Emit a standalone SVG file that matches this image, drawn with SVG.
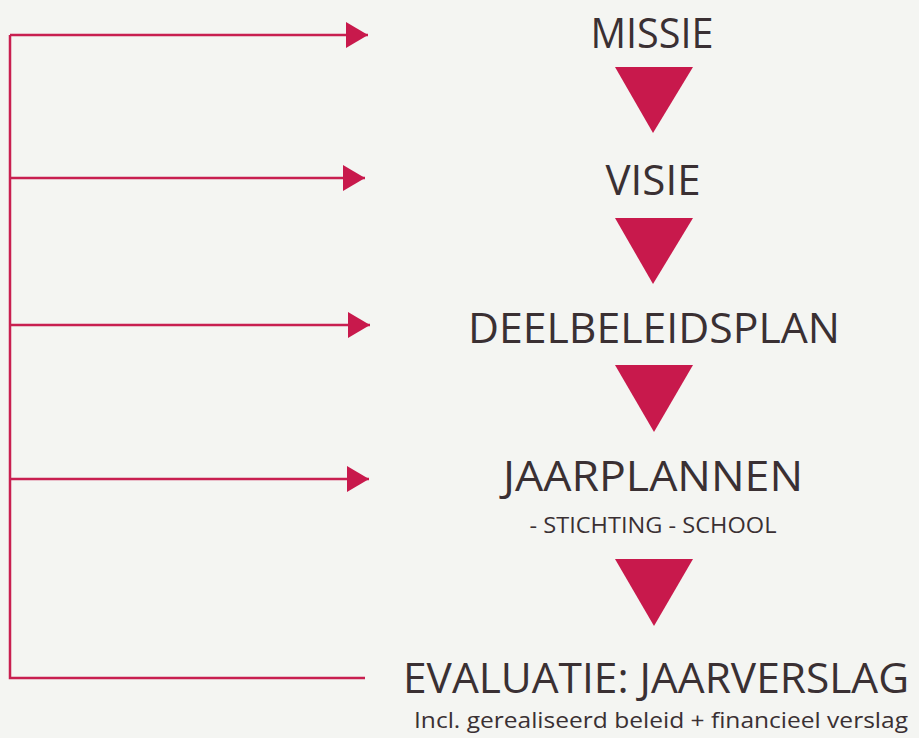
<svg xmlns="http://www.w3.org/2000/svg" width="919" height="738" viewBox="0 0 919 738">
<defs>
<style>
.t{font-family:"Open Sans","Noto Sans","Liberation Sans",sans-serif;fill:#3a3033;text-anchor:middle}
.big{font-size:42px}
.sub{font-size:22px}
.con{stroke:#c81f50;stroke-width:2.5;fill:none}
.tri{fill:#c8194c}
</style>
<marker id="ah" markerUnits="userSpaceOnUse" markerWidth="24" markerHeight="26" refX="22" refY="13" orient="auto">
<polygon points="0,0 22,13 0,26" fill="#c8194c"/>
</marker>
</defs>
<rect width="919" height="738" fill="#f4f5f2"/>
<g id="connectors">
<path class="con" d="M10,35 V678 H365"/>
<line class="con" x1="10" y1="35" x2="368" y2="35" marker-end="url(#ah)"/>
<line class="con" x1="10" y1="178" x2="365" y2="178" marker-end="url(#ah)"/>
<line class="con" x1="10" y1="325" x2="370" y2="325" marker-end="url(#ah)"/>
<line class="con" x1="10" y1="479" x2="369" y2="479" marker-end="url(#ah)"/>
</g>
<g id="missie"><text class="t big" x="652" y="48" textLength="123" lengthAdjust="spacingAndGlyphs">MISSIE</text></g>
<g id="tri1"><polygon class="tri" points="615,67 693,67 653,133"/></g>
<g id="visie"><text class="t big" x="653" y="195" textLength="95" lengthAdjust="spacingAndGlyphs">VISIE</text></g>
<g id="tri2"><polygon class="tri" points="615,218 693,218 653,284"/></g>
<g id="deelbeleidsplan"><text class="t big" x="654" y="343" textLength="372" lengthAdjust="spacingAndGlyphs">DEELBELEIDSPLAN</text></g>
<g id="tri3"><polygon class="tri" points="615,365 693,365 654,432"/></g>
<g id="jaarplannen">
<text class="t big" x="653" y="491" textLength="300" lengthAdjust="spacingAndGlyphs">JAARPLANNEN</text>
<text class="t sub" x="653" y="533" textLength="247" lengthAdjust="spacingAndGlyphs">- STICHTING - SCHOOL</text>
</g>
<g id="tri4"><polygon class="tri" points="615,559 693,559 654,626"/></g>
<g id="evaluatie">
<text class="t" x="656" y="693" font-size="42" textLength="506" lengthAdjust="spacingAndGlyphs">EVALUATIE: JAARVERSLAG</text>
<text class="t" x="661" y="728" font-size="22" textLength="494" lengthAdjust="spacingAndGlyphs">Incl. gerealiseerd beleid + financieel verslag</text>
</g>
</svg>
